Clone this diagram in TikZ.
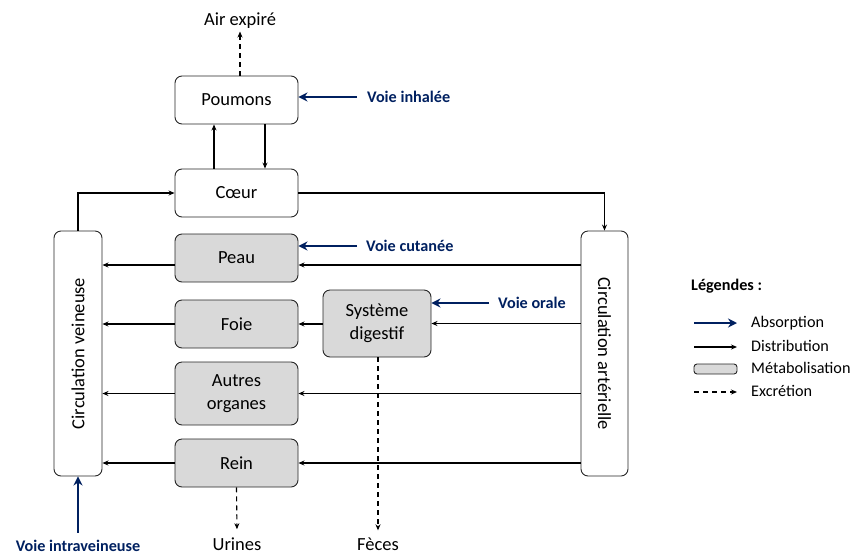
\documentclass[tikz,border=0pt]{standalone}
\usepackage{fontspec}
\setmainfont{Carlito}
\usetikzlibrary{arrows.meta, positioning}
\definecolor{voieblue}{RGB}{0,32,96}
\colorlet{organfill}{black!15}
\newcommand{\mainsize}{\fontsize{18.5}{22.5}\selectfont}
\newcommand{\legsize}{\fontsize{16.2}{19}\selectfont}

\begin{document}
\begin{tikzpicture}[x=1pt, y=-1pt, >=Stealth,
    organ/.style={draw=black!85, line width=0.9pt, rounded corners=7pt, minimum width=123pt, minimum height=48pt, inner sep=0pt, align=center, font=\mainsize},
    metab/.style={organ, fill=organfill},
    dist/.style={->, line width=1.1pt, >={Stealth[length=6pt, width=5pt]}},
    excr/.style={dist, dash pattern=on 5pt off 4pt},
    absorb/.style={->, line width=2.6pt, draw=voieblue, >={Stealth[length=9pt, width=9pt]}},
    voie/.style={anchor=west, inner sep=0pt, text=voieblue, font=\legsize\bfseries},
    legtext/.style={anchor=west, inner sep=0pt, text height=12pt, text depth=3.5pt, font=\legsize}]
    \useasboundingbox (0,0) rectangle (854,555);

    \node[organ] (poumons) at (236.5,100) {Poumons};
    \node[organ] (coeur) at (236.5,193) {Cœur};
    \node[metab] (peau) at (236.5,258) {Peau};
    \node[metab] (foie) at (236.5,324) {Foie};
    \node[metab, minimum height=63pt] (autres) at (236.5,393.5) {Autres\\organes};
    \node[metab] (rein) at (236.5,463) {Rein};
    \node[metab, minimum width=108pt, minimum height=67pt] (digestif) at (377,323.5) {Système\\digestif};

    \node[organ, minimum width=48pt, minimum height=245pt] (veine) at (78,353.5) {};
    \node[rotate=90, font=\mainsize] (veinetxt) at (veine) {Circulation veineuse};
    \node[organ, minimum width=47pt, minimum height=245pt] (artere) at (604.5,353.5) {};
    \node[rotate=-90, font=\mainsize] (arteretxt) at (artere) {Circulation artérielle};

    \node[anchor=base, font=\mainsize] (air) at (240,25) {Air expiré};
    \node[anchor=base, font=\mainsize] (urines) at (237,550.5) {Urines};
    \node[anchor=base, font=\mainsize] (feces) at (378,550.5) {Fèces};

    \draw[excr] (air.south |- poumons.north) -- (air.south);
    \draw[excr, shorten >=5pt] (rein.south) -- (urines.north);
    \draw[excr, shorten >=4pt] (feces.north |- digestif.south) -- (feces.north);

    \draw[dist] ([xshift=-22.5pt]coeur.north) -- ([xshift=-22.5pt]poumons.south);
    \draw[dist] ([xshift=28.5pt]poumons.south) -- ([xshift=28.5pt]coeur.north);
    \draw[dist] (veine.north) |- (coeur.west);
    \draw[dist] (coeur.east) -| (artere.north);

    \coordinate (peaurow) at ([yshift=-7pt]peau.east);
    \draw[dist] (artere.west |- peaurow) -- (peaurow);
    \draw[dist] (peaurow -| peau.west) -- (peaurow -| veine.east);
    \foreach \org in {foie, autres, rein} {
        \draw[dist] (\org.west) -- (\org.west -| veine.east);
    }
    \foreach \org in {autres, rein, digestif} {
        \draw[dist] (\org.east -| artere.west) -- (\org.east);
    }
    \draw[dist] (digestif.west |- foie.east) -- (foie.east);

    \node[voie] (inhal) at (367,97) {Voie inhalée};
    \node[voie] (cutan) at (366,246) {Voie cutanée};
    \node[voie] (orale) at (498,303) {Voie orale};
    \node[anchor=base, inner sep=0pt, text=voieblue, font=\legsize\bfseries] (intrav) at (78,551.5) {Voie intraveineuse};
    \draw[absorb] ([xshift=-10pt]inhal.west) -- (inhal.west -| poumons.east);
    \draw[absorb] ([xshift=-9pt]cutan.west) -- (cutan.west -| peau.east);
    \draw[absorb] ([xshift=-9pt]orale.west) -- (orale.west -| digestif.east);
    \draw[absorb, shorten <=7pt] (intrav.north) -- (veine.south);

    \node[anchor=base west, inner sep=0pt, font=\legsize\bfseries] (legtitle) at (691,290) {Légendes :};
    \foreach \name/\txt/\yy in {abs/Absorption/323, dis/Distribution/347, met/Métabolisation/369, exc/Excrétion/392} {
        \node[legtext] (leg\name) at (751,\yy) {\txt};
    }
    \draw[absorb] ([xshift=-57pt]legabs.west) -- ([xshift=-14pt]legabs.west);
    \draw[dist] ([xshift=-57pt]legdis.west) -- ([xshift=-14pt]legdis.west);
    \draw[draw=black!85, line width=0.9pt, fill=organfill, rounded corners=3pt] ([xshift=-57pt, yshift=5pt]legmet.west) rectangle ([xshift=-14pt, yshift=-5pt]legmet.west);
    \draw[excr] ([xshift=-57pt]legexc.west) -- ([xshift=-14pt]legexc.west);
\end{tikzpicture}
\end{document}
